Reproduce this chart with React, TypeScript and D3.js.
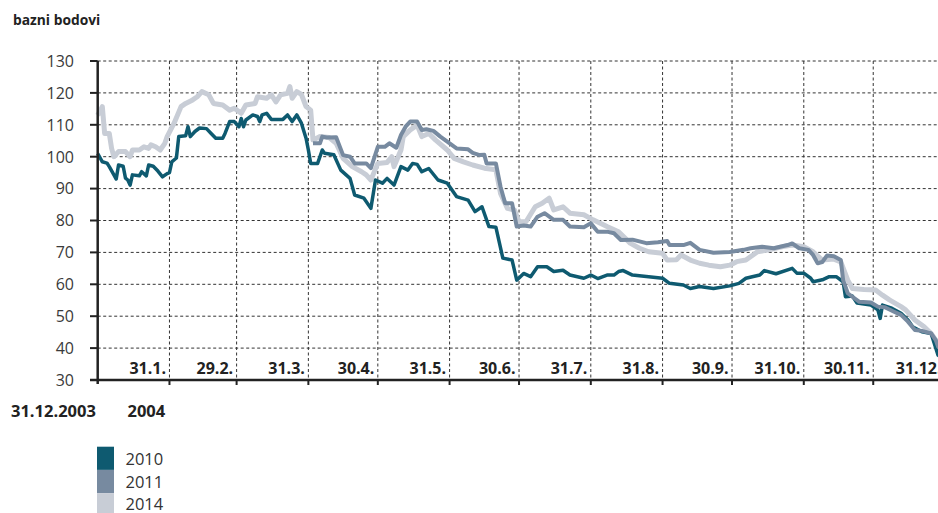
import React from "react";
import * as d3 from "d3";

// day offsets from 31.12.2003 and index values (bazni bodovi)
const days2010 = [0,2,4,5,7,8,9,11,12,13,14,15,18,19,21,22,24,26,28,30,31,32,34,35,38,39,40,42,44,47,49,51,54,55,57,59,61,62,63,64,67,69,70,71,73,75,80,82,84,86,88,90,91,92,95,97,98,102,105,109,111,115,118,120,123,125,128,131,134,136,138,140,143,147,151,155,160,163,166,169,172,175,179,181,184,187,190,194,197,201,204,210,213,216,220,223,225,227,231,238,244,247,253,256,260,266,273,277,280,286,288,293,300,302,305,308,309,313,316,319,322,323,326,328,334,337,338,339,343,347,350,352,356,360,363,366];
const values2010 = [101,98.4,98,96.9,94.3,93,97.4,97,93.3,92.7,91.1,94.3,94,95.3,94,97.4,97,95.5,93.7,94.7,95,98.4,99.6,106.3,106.6,109.4,106.3,107.9,109,108.8,107.3,105.8,105.8,107.3,111,111,109.4,112,109.4,111.5,113.1,112.6,111,113.1,113.6,111.7,111.7,113.1,111,113.1,110.5,105.8,102.1,97.9,97.9,102.1,101.1,100.6,95.8,93.2,88,87,83.8,92.7,91.7,93.2,91.1,96.9,95.8,97.9,97.6,95.3,96.3,92.7,91.7,87.5,86.4,82.8,84.3,78.1,77.9,68.2,67.6,61.3,63.4,62.4,65.5,65.5,64,64.4,62.9,61.9,62.9,61.8,62.9,62.9,64,64.3,62.9,62.4,61.9,60.3,59.8,58.7,59.3,58.7,59.5,60.3,61.9,62.9,64.3,63.3,65,63.5,63.5,61.9,60.8,61.4,62.4,62.4,60.8,56.1,56.3,54.1,53.5,52,49.3,53.5,52.5,50.9,48.8,46.7,45.1,44.6,37.8,36];

const days2011 = [93,96,97,99,103,106,109,111,116,118,121,124,126,129,131,133,135,138,140,142,145,148,151,155,160,162,165,167,168,172,174,176,179,181,184,187,190,193,197,201,204,210,213,216,220,223,226,231,237,242,246,247,253,256,260,266,273,279,282,287,292,298,300,303,307,309,311,313,315,318,321,322,324,326,329,334,337,340,344,347,350,353,356,360,362,363,366];
const values2011 = [104.2,104.2,106.3,106,106.1,100.5,100,97.9,97.9,96.4,103.1,103.1,104.2,102.8,106.8,109.4,111,111,108.4,108.6,108.1,106.3,104.7,102.6,102.3,101.2,100.5,100.6,97.9,97.9,90.6,85.4,85.4,78.1,78.4,78.1,81.2,82.3,80.2,80.2,78.1,77.9,79.1,76.5,76.5,76,73.9,74,72.9,73.2,73.6,72.3,72.3,73,70.8,69.9,70.1,70.8,71.3,71.8,71.3,72.3,72.8,71.3,70.8,69.2,66.6,67,69,68.8,67.6,61.3,57.2,56.1,54.5,54.3,53,52.8,51.4,50.4,48.3,45.7,45.4,44.6,42.5,40.5,39];

const days2014 = [0,2,3,5,6,7,9,12,14,15,18,20,22,23,25,27,29,30,33,36,38,41,43,45,48,50,54,57,59,62,64,68,69,73,75,77,79,82,83,84,86,88,90,92,93,96,100,103,106,110,114,116,118,121,125,127,128,131,132,135,138,140,143,146,151,154,158,162,167,172,174,177,180,182,185,189,192,195,197,201,204,210,214,220,225,230,234,238,244,246,250,252,256,260,264,269,273,276,280,285,290,296,300,305,309,313,318,321,324,326,331,336,339,342,347,349,353,357,360,362,366];
const values2014 = [113,115.7,107.3,107.3,102.6,100,101.6,101.6,100,102.1,102.1,103.1,102.6,103.7,103.1,102.1,104.2,106.3,110.5,115.7,116.7,117.8,118.8,120.4,119.4,116.7,116.2,114.6,115.2,113.6,116.2,116.7,118.8,118.3,119.4,117.2,119.4,119.9,122,118.3,120.4,119.5,115.7,114.6,105.2,106.3,106,104.2,99.5,96.9,95.3,94.3,92.7,97.9,98.2,100,96.9,102.1,106.3,108.4,109.9,106.3,107.3,105.2,102.1,99.5,98.4,97.4,96.4,95.9,88.5,83.8,83.3,79.6,79.6,84.3,85.4,87,83.3,84.3,82.3,81.8,80.2,78.1,76.5,72.9,71.3,70.2,69.7,67.6,67.7,69.2,67.6,66.6,66,65.5,66,67.1,67.6,70.2,70.8,71.8,72.3,71.8,70.2,67.6,67.9,67,61.3,58.7,58.4,58.2,56.6,55.1,53,52,48.8,46.7,44.6,42.5,40];

const yTicks = [30,40,50,60,70,80,90,100,110,120,130];
const monthDays = [31,60,91,121,152,182,213,244,274,305,335,366];
const monthLabels = ["31.1.","29.2.","31.3.","30.4.","31.5.","30.6.","31.7.","31.8.","30.9.","31.10.","30.11.","31.12."];
const legendNames = ["2010","2011","2014"];
const colors = ["#0e5a70","#778aa0","#c8cdd6"];

const W = 938, H = 513;
const FONT = "'Open Sans', 'Liberation Sans', sans-serif";

export default function App() {
  const x = d3.scaleLinear().domain([0, 366]).range([97.7, 945]);
  const y = d3.scaleLinear().domain([30, 130]).range([380, 61]);
  const mk = (ds: number[], vs: number[]) =>
    d3.line<number>().x((_, i) => x(ds[i])).y((v) => y(v))(vs) || "";
  const series = [
    { d: mk(days2014, values2014), c: colors[2], w: 5 },
    { d: mk(days2010, values2010), c: colors[0], w: 3.5 },
    { d: mk(days2011, values2011), c: colors[1], w: 4 },
  ];
  const x0 = x(0), xEnd = 945, yBot = y(30), yTop = y(130);
  return (
    <svg width={W} height={H} style={{ position: "absolute", left: 0, top: 0, background: "#fff" }} fontFamily={FONT}>
      <rect width={W} height={H} fill="#fff" />
      <text x={13} y={25} fontSize={13.8} fontWeight={700} fill="#222">bazni bodovi</text>
      {/* grid */}
      {yTicks.filter((t) => t > 30).map((t) => (
        <line key={"h" + t} x1={x0} x2={xEnd} y1={y(t)} y2={y(t)} stroke="#333" strokeWidth={1} strokeDasharray="3,2.5" />
      ))}
      {monthDays.map((d) => (
        <line key={"v" + d} x1={x(d)} x2={x(d)} y1={yTop} y2={yBot} stroke="#333" strokeWidth={1} strokeDasharray="3,2.5" />
      ))}
      {/* series */}
      {series.map((s, i) => (
        <path key={i} d={s.d} fill="none" stroke={s.c} strokeWidth={s.w} strokeLinejoin="round" strokeLinecap="butt" />
      ))}
      {/* axes */}
      <line x1={x0} x2={x0} y1={yTop} y2={yBot + 4} stroke="#222" strokeWidth={2.5} />
      <line x1={90} x2={xEnd} y1={yBot} y2={yBot} stroke="#222" strokeWidth={2.5} />
      {yTicks.map((t) => (
        <g key={"yt" + t}>
          <line x1={90} x2={x0} y1={y(t)} y2={y(t)} stroke="#222" strokeWidth={2} />
          <text x={74} y={y(t) + 5.8} textAnchor="end" fontSize={16} fill="#3a3a3a">{t}</text>
        </g>
      ))}
      {monthDays.map((d, i) => (
        <g key={"xt" + d}>
          <line x1={x(d)} x2={x(d)} y1={yBot} y2={yBot + 5} stroke="#222" strokeWidth={2} />
          <text x={x(d) - 3.5} y={374} textAnchor="end" fontSize={16} fontWeight={700} fill="#222">{monthLabels[i]}</text>
        </g>
      ))}
      <text x={11} y={417} fontSize={16.5} fontWeight={700} fill="#222">31.12.2003</text>
      <text x={127.5} y={417} fontSize={16.5} fontWeight={700} fill="#222">2004</text>
      {/* legend */}
      {legendNames.map((n, i) => (
        <g key={n}>
          <rect x={97} y={446.7 + i * 23.2} width={17} height={23.2} fill={colors[i]} />
          <text x={125.5} y={465 + i * 22.7} fontSize={16.5} fill="#333">{n}</text>
        </g>
      ))}
    </svg>
  );
}
